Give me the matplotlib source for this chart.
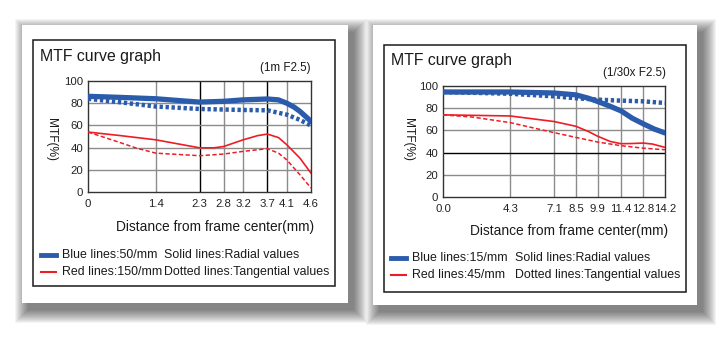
import matplotlib
matplotlib.use('Agg')
import matplotlib.pyplot as plt
from matplotlib.patches import Rectangle

plt.rcParams['font.family'] = ['Liberation Sans', 'DejaVu Sans']

W, H = 719, 337

# painel da esquerda (1m F2.5)
left_ticks = [0, 1.4, 2.3, 2.8, 3.2, 3.7, 4.1, 4.6]
left_tick_labels = ['0', '1.4', '2.3', '2.8', '3.2', '3.7', '4.1', '4.6']
left_blue_solid_x = [0, 0.63, 1.4, 1.9, 2.3, 2.8, 3.2, 3.7, 3.93, 4.1, 4.25, 4.37, 4.6]
left_blue_solid_y = [86.2, 85.3, 84, 82.3, 81, 81.7, 83, 83.8, 83, 80, 76.5, 72.7, 63.7]
left_blue_dot_x = [0, 0.63, 1.4, 2.3, 3.2, 3.7, 4.1, 4.37, 4.6]
left_blue_dot_y = [84, 81, 77, 74.8, 73.9, 73.6, 69.7, 65, 59.8]
left_red_solid_x = [0, 0.63, 1.4, 1.9, 2.3, 2.6, 2.8, 3.2, 3.5, 3.7, 3.93, 4.1, 4.37, 4.6]
left_red_solid_y = [54, 51, 47, 43, 39.8, 39.8, 41, 47, 50.8, 52.2, 49, 42.6, 30.6, 17]
left_red_dash_x = [0, 0.63, 1.0, 1.4, 2.3, 2.8, 3.2, 3.7, 3.93, 4.1, 4.37, 4.6]
left_red_dash_y = [54, 45, 39.5, 35, 32.7, 34.2, 36.6, 39, 35, 29, 15.6, 3.6]

# painel da direita (1/30x F2.5)
right_ticks = [0, 4.3, 7.1, 8.5, 9.9, 11.4, 12.8, 14.2]
right_tick_labels = ['0.0', '4.3', '7.1', '8.5', '9.9', '11.4', '12.8', '14.2']
right_blue_solid_x = [0, 4.3, 7.1, 8.5, 9.3, 9.9, 10.7, 11.4, 12.1, 12.8, 13.5, 14.2]
right_blue_solid_y = [94.6, 94.6, 93.7, 92, 89, 86, 81.7, 77.5, 71, 66, 61.3, 57.7]
right_blue_dot_x = [0, 4.3, 7.1, 8.5, 9.9, 11.4, 12.8, 14.2]
right_blue_dot_y = [94.6, 93, 90.7, 89, 87.7, 86.8, 86.2, 84.7]
right_red_solid_x = [0, 4.3, 7.1, 8.5, 9.3, 9.9, 10.7, 11.4, 12.1, 12.8, 13.4, 14.2]
right_red_solid_y = [74, 73, 68, 63.7, 59, 54.7, 50, 48, 48.2, 48.6, 47.7, 44.7]
right_red_dash_x = [0, 1.9, 4.3, 7.1, 8.5, 9.9, 11.4, 12.8, 14.2]
right_red_dash_y = [74, 72, 67, 58, 53.7, 49.5, 46.2, 44, 42.6]

BLUE = '#2b5bab'
RED = '#ee1c25'
GRID = '#8c8c8c'
TXT = '#1a1a1a'


def fx(x):
    return x / W


def fy(y):
    return 1 - y / H


def draw_card(fig, card, box):
    # sombra borrada feita com varios retangulos
    x0, y0, x1, y1 = card
    for i in range(14):
        fig.add_artist(Rectangle((fx(x0 + 6 - i), fy(y1 + 7 + i)),
                                 (x1 - x0 + 2 * i) / W, (y1 - y0 + 2 * i) / H,
                                 transform=fig.transFigure, facecolor='black',
                                 edgecolor='none', alpha=0.045, zorder=-6))
    fig.add_artist(Rectangle((fx(x0), fy(y1)), (x1 - x0) / W, (y1 - y0) / H,
                             transform=fig.transFigure, facecolor='white',
                             edgecolor='none', zorder=-5))
    bx0, by0, bx1, by1 = box
    fig.add_artist(Rectangle((fx(bx0), fy(by1)), (bx1 - bx0) / W, (by1 - by0) / H,
                             transform=fig.transFigure, facecolor='white',
                             edgecolor='#1a1a1a', linewidth=1.1, zorder=-4))


def draw_panel(fig, rect, ticks, tick_labels, curves, black_x, black_y):
    x0, y0, x1, y1 = rect
    ax = fig.add_axes([fx(x0), fy(y1), (x1 - x0) / W, (y1 - y0) / H])
    ax.set_xlim(ticks[0], ticks[-1])
    ax.set_ylim(0, 100)
    ax.set_xticks(ticks)
    ax.set_xticklabels(tick_labels)
    ax.set_yticks([0, 20, 40, 60, 80, 100])
    ax.tick_params(length=0, labelsize=8.2, colors='#222222')
    ax.tick_params(axis='y', pad=3.5)
    ax.tick_params(axis='x', pad=5)
    for t in ticks[1:-1]:
        ax.axvline(t, color='black' if t in black_x else GRID, lw=1.0, zorder=1)
    for v in [20, 40, 60, 80]:
        ax.axhline(v, color='black' if v in black_y else GRID, lw=1.0, zorder=1)
    for s in ax.spines.values():
        s.set_color('#333333')
        s.set_linewidth(1.0)

    (bsx, bsy), (bdx, bdy), (rsx, rsy), (rdx, rdy) = curves
    ax.plot(bdx, bdy, color=BLUE, lw=3.2, linestyle=(0, (0.75, 0.6)), zorder=3)
    ax.plot(bsx, bsy, color=BLUE, lw=3.8, solid_capstyle='round',
            solid_joinstyle='round', zorder=4)
    ax.plot(rdx, rdy, color=RED, lw=1.1, linestyle=(0, (2.8, 1.6)), zorder=3)
    ax.plot(rsx, rsy, color=RED, lw=1.2, solid_joinstyle='round', zorder=4)
    return ax


def draw_texts(fig, title_xy, cond, cond_xy, ylab_xy, xlab_xy, legend_x, legend_y, col2_x, lines):
    fig.text(fx(title_xy[0]), fy(title_xy[1]), 'MTF curve graph', fontsize=11.4,
             color=TXT, ha='left', va='center')
    fig.text(fx(cond_xy[0]), fy(cond_xy[1]), cond, fontsize=8.4,
             color=TXT, ha='right', va='center')
    fig.text(fx(ylab_xy[0]), fy(ylab_xy[1]), 'MTF(%)', fontsize=8.6, rotation=270,
             color=TXT, ha='center', va='center')
    fig.text(fx(xlab_xy[0]), fy(xlab_xy[1]), 'Distance from frame center(mm)',
             fontsize=9.9, color=TXT, ha='right', va='center')
    for (color, lw, c1, c2), yy in zip(lines, legend_y):
        fig.add_artist(plt.Line2D([fx(legend_x), fx(legend_x + 15)], [fy(yy), fy(yy)],
                                  transform=fig.transFigure, color=color, lw=lw))
        fig.text(fx(legend_x + 21), fy(yy), c1, fontsize=8.9, color=TXT,
                 ha='left', va='center')
        fig.text(fx(col2_x), fy(yy), c2, fontsize=8.9, color=TXT,
                 ha='left', va='center')


fig = plt.figure(figsize=(W / 100, H / 100), dpi=100)
fig.patch.set_facecolor('white')

draw_card(fig, (22, 25, 348, 303), (33, 40, 335, 286))
draw_card(fig, (373, 25, 697, 305), (384, 45, 686, 292))

draw_panel(fig, (88, 81, 311, 192), left_ticks, left_tick_labels,
           [(left_blue_solid_x, left_blue_solid_y), (left_blue_dot_x, left_blue_dot_y),
            (left_red_solid_x, left_red_solid_y), (left_red_dash_x, left_red_dash_y)],
           black_x=[2.3, 3.7], black_y=[])
draw_panel(fig, (443, 86, 665, 197), right_ticks, right_tick_labels,
           [(right_blue_solid_x, right_blue_solid_y), (right_blue_dot_x, right_blue_dot_y),
            (right_red_solid_x, right_red_solid_y), (right_red_dash_x, right_red_dash_y)],
           black_x=[], black_y=[40])

draw_texts(fig, (40, 56), '(1m F2.5)', (311, 68), (51, 140), (314, 227),
           41, [255, 272], 164,
           [(BLUE, 3.5, 'Blue lines:50/mm', 'Solid lines:Radial values'),
            (RED, 1.5, 'Red lines:150/mm', 'Dotted lines:Tangential values')])
draw_texts(fig, (391, 60), '(1/30x F2.5)', (666, 73), (408, 140), (668, 231),
           391, [258, 275], 515,
           [(BLUE, 3.5, 'Blue lines:15/mm', 'Solid lines:Radial values'),
            (RED, 1.5, 'Red lines:45/mm', 'Dotted lines:Tangential values')])

fig.savefig('out.png', dpi=100, facecolor='white')
